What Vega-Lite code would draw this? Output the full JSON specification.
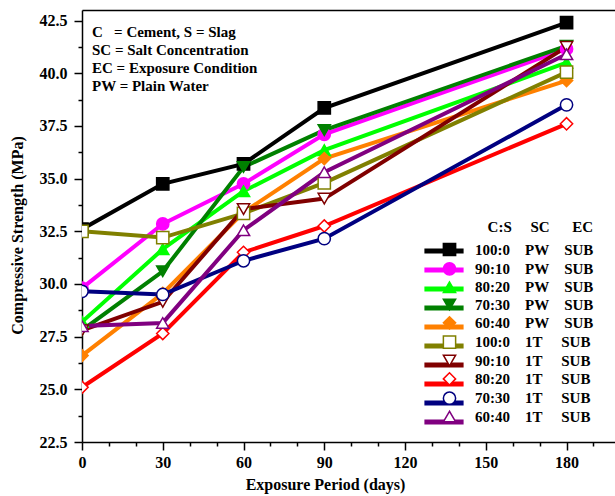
{
  "$schema": "https://vega.github.io/schema/vega-lite/v6.json",
  "width": 533,
  "height": 432,
  "autosize": "none",
  "padding": {"left": 82, "top": 10, "right": 0, "bottom": 54},
  "background": "white",
  "config": {
    "view": {"stroke": null},
    "font": "Liberation Serif",
    "axis": {
      "grid": false,
      "labelFont": "Liberation Serif", "labelFontWeight": "bold", "labelFontSize": 16, "labelColor": "black",
      "titleFont": "Liberation Serif", "titleFontWeight": "bold", "titleFontSize": 16, "titleColor": "black",
      "domainColor": "black", "domainWidth": 1.5, "tickColor": "black", "tickWidth": 1.5
    },
    "legend": {
      "labelFont": "Liberation Serif", "labelFontWeight": "bold", "labelFontSize": 15, "labelColor": "black",
      "titleFont": "Liberation Serif", "titleFontWeight": "bold", "titleFontSize": 15, "titleColor": "black",
      "padding": 0
    }
  },
  "title": {
    "text": ["C\u00a0\u00a0\u00a0= Cement, S = Slag", "SC = Salt Concentration", "EC = Exposure Condition", "PW = Plain Water"],
    "anchor": "start", "frame": "group", "orient": "top",
    "offset": -84, "dx": 10, "lineHeight": 18,
    "font": "Liberation Serif", "fontWeight": "bold", "fontSize": 15, "color": "black"
  },
  "data": {"values": [
    {"line": "100:0 PW", "label": "100:0\u00a0\u00a0\u00a0\u00a0PW\u00a0\u00a0\u00a0\u00a0SUB", "day": 0, "mpa": 32.6},
    {"line": "100:0 PW", "label": "100:0\u00a0\u00a0\u00a0\u00a0PW\u00a0\u00a0\u00a0\u00a0SUB", "day": 30, "mpa": 34.75},
    {"line": "100:0 PW", "label": "100:0\u00a0\u00a0\u00a0\u00a0PW\u00a0\u00a0\u00a0\u00a0SUB", "day": 60, "mpa": 35.7},
    {"line": "100:0 PW", "label": "100:0\u00a0\u00a0\u00a0\u00a0PW\u00a0\u00a0\u00a0\u00a0SUB", "day": 90, "mpa": 38.35},
    {"line": "100:0 PW", "label": "100:0\u00a0\u00a0\u00a0\u00a0PW\u00a0\u00a0\u00a0\u00a0SUB", "day": 180, "mpa": 42.4},
    {"line": "90:10 PW", "label": "90:10\u00a0\u00a0\u00a0\u00a0PW\u00a0\u00a0\u00a0\u00a0SUB", "day": 0, "mpa": 29.8},
    {"line": "90:10 PW", "label": "90:10\u00a0\u00a0\u00a0\u00a0PW\u00a0\u00a0\u00a0\u00a0SUB", "day": 30, "mpa": 32.85},
    {"line": "90:10 PW", "label": "90:10\u00a0\u00a0\u00a0\u00a0PW\u00a0\u00a0\u00a0\u00a0SUB", "day": 60, "mpa": 34.75},
    {"line": "90:10 PW", "label": "90:10\u00a0\u00a0\u00a0\u00a0PW\u00a0\u00a0\u00a0\u00a0SUB", "day": 90, "mpa": 37.1},
    {"line": "90:10 PW", "label": "90:10\u00a0\u00a0\u00a0\u00a0PW\u00a0\u00a0\u00a0\u00a0SUB", "day": 180, "mpa": 41.15},
    {"line": "80:20 PW", "label": "80:20\u00a0\u00a0\u00a0\u00a0PW\u00a0\u00a0\u00a0\u00a0SUB", "day": 0, "mpa": 28.2},
    {"line": "80:20 PW", "label": "80:20\u00a0\u00a0\u00a0\u00a0PW\u00a0\u00a0\u00a0\u00a0SUB", "day": 30, "mpa": 31.65},
    {"line": "80:20 PW", "label": "80:20\u00a0\u00a0\u00a0\u00a0PW\u00a0\u00a0\u00a0\u00a0SUB", "day": 60, "mpa": 34.4},
    {"line": "80:20 PW", "label": "80:20\u00a0\u00a0\u00a0\u00a0PW\u00a0\u00a0\u00a0\u00a0SUB", "day": 90, "mpa": 36.35},
    {"line": "80:20 PW", "label": "80:20\u00a0\u00a0\u00a0\u00a0PW\u00a0\u00a0\u00a0\u00a0SUB", "day": 180, "mpa": 40.5},
    {"line": "70:30 PW", "label": "70:30\u00a0\u00a0\u00a0\u00a0PW\u00a0\u00a0\u00a0\u00a0SUB", "day": 0, "mpa": 27.8},
    {"line": "70:30 PW", "label": "70:30\u00a0\u00a0\u00a0\u00a0PW\u00a0\u00a0\u00a0\u00a0SUB", "day": 30, "mpa": 30.6},
    {"line": "70:30 PW", "label": "70:30\u00a0\u00a0\u00a0\u00a0PW\u00a0\u00a0\u00a0\u00a0SUB", "day": 60, "mpa": 35.55},
    {"line": "70:30 PW", "label": "70:30\u00a0\u00a0\u00a0\u00a0PW\u00a0\u00a0\u00a0\u00a0SUB", "day": 90, "mpa": 37.3},
    {"line": "70:30 PW", "label": "70:30\u00a0\u00a0\u00a0\u00a0PW\u00a0\u00a0\u00a0\u00a0SUB", "day": 180, "mpa": 41.3},
    {"line": "60:40 PW", "label": "60:40\u00a0\u00a0\u00a0\u00a0PW\u00a0\u00a0\u00a0\u00a0SUB", "day": 0, "mpa": 26.6},
    {"line": "60:40 PW", "label": "60:40\u00a0\u00a0\u00a0\u00a0PW\u00a0\u00a0\u00a0\u00a0SUB", "day": 30, "mpa": 29.55},
    {"line": "60:40 PW", "label": "60:40\u00a0\u00a0\u00a0\u00a0PW\u00a0\u00a0\u00a0\u00a0SUB", "day": 60, "mpa": 33.4},
    {"line": "60:40 PW", "label": "60:40\u00a0\u00a0\u00a0\u00a0PW\u00a0\u00a0\u00a0\u00a0SUB", "day": 90, "mpa": 35.95},
    {"line": "60:40 PW", "label": "60:40\u00a0\u00a0\u00a0\u00a0PW\u00a0\u00a0\u00a0\u00a0SUB", "day": 180, "mpa": 39.65},
    {"line": "100:0 1T", "label": "100:0\u00a0\u00a0\u00a0\u00a01T\u00a0\u00a0\u00a0\u00a0\u00a0SUB", "day": 0, "mpa": 32.5},
    {"line": "100:0 1T", "label": "100:0\u00a0\u00a0\u00a0\u00a01T\u00a0\u00a0\u00a0\u00a0\u00a0SUB", "day": 30, "mpa": 32.2},
    {"line": "100:0 1T", "label": "100:0\u00a0\u00a0\u00a0\u00a01T\u00a0\u00a0\u00a0\u00a0\u00a0SUB", "day": 60, "mpa": 33.35},
    {"line": "100:0 1T", "label": "100:0\u00a0\u00a0\u00a0\u00a01T\u00a0\u00a0\u00a0\u00a0\u00a0SUB", "day": 90, "mpa": 34.8},
    {"line": "100:0 1T", "label": "100:0\u00a0\u00a0\u00a0\u00a01T\u00a0\u00a0\u00a0\u00a0\u00a0SUB", "day": 180, "mpa": 40.05},
    {"line": "90:10 1T", "label": "90:10\u00a0\u00a0\u00a0\u00a01T\u00a0\u00a0\u00a0\u00a0\u00a0SUB", "day": 0, "mpa": 27.8},
    {"line": "90:10 1T", "label": "90:10\u00a0\u00a0\u00a0\u00a01T\u00a0\u00a0\u00a0\u00a0\u00a0SUB", "day": 30, "mpa": 29.15},
    {"line": "90:10 1T", "label": "90:10\u00a0\u00a0\u00a0\u00a01T\u00a0\u00a0\u00a0\u00a0\u00a0SUB", "day": 60, "mpa": 33.55},
    {"line": "90:10 1T", "label": "90:10\u00a0\u00a0\u00a0\u00a01T\u00a0\u00a0\u00a0\u00a0\u00a0SUB", "day": 90, "mpa": 34.05},
    {"line": "90:10 1T", "label": "90:10\u00a0\u00a0\u00a0\u00a01T\u00a0\u00a0\u00a0\u00a0\u00a0SUB", "day": 180, "mpa": 41.25},
    {"line": "80:20 1T", "label": "80:20\u00a0\u00a0\u00a0\u00a01T\u00a0\u00a0\u00a0\u00a0\u00a0SUB", "day": 0, "mpa": 25.1},
    {"line": "80:20 1T", "label": "80:20\u00a0\u00a0\u00a0\u00a01T\u00a0\u00a0\u00a0\u00a0\u00a0SUB", "day": 30, "mpa": 27.65},
    {"line": "80:20 1T", "label": "80:20\u00a0\u00a0\u00a0\u00a01T\u00a0\u00a0\u00a0\u00a0\u00a0SUB", "day": 60, "mpa": 31.5},
    {"line": "80:20 1T", "label": "80:20\u00a0\u00a0\u00a0\u00a01T\u00a0\u00a0\u00a0\u00a0\u00a0SUB", "day": 90, "mpa": 32.75},
    {"line": "80:20 1T", "label": "80:20\u00a0\u00a0\u00a0\u00a01T\u00a0\u00a0\u00a0\u00a0\u00a0SUB", "day": 180, "mpa": 37.6},
    {"line": "70:30 1T", "label": "70:30\u00a0\u00a0\u00a0\u00a01T\u00a0\u00a0\u00a0\u00a0\u00a0SUB", "day": 0, "mpa": 29.65},
    {"line": "70:30 1T", "label": "70:30\u00a0\u00a0\u00a0\u00a01T\u00a0\u00a0\u00a0\u00a0\u00a0SUB", "day": 30, "mpa": 29.5},
    {"line": "70:30 1T", "label": "70:30\u00a0\u00a0\u00a0\u00a01T\u00a0\u00a0\u00a0\u00a0\u00a0SUB", "day": 60, "mpa": 31.1},
    {"line": "70:30 1T", "label": "70:30\u00a0\u00a0\u00a0\u00a01T\u00a0\u00a0\u00a0\u00a0\u00a0SUB", "day": 90, "mpa": 32.15},
    {"line": "70:30 1T", "label": "70:30\u00a0\u00a0\u00a0\u00a01T\u00a0\u00a0\u00a0\u00a0\u00a0SUB", "day": 180, "mpa": 38.5},
    {"line": "60:40 1T", "label": "60:40\u00a0\u00a0\u00a0\u00a01T\u00a0\u00a0\u00a0\u00a0\u00a0SUB", "day": 0, "mpa": 28.0},
    {"line": "60:40 1T", "label": "60:40\u00a0\u00a0\u00a0\u00a01T\u00a0\u00a0\u00a0\u00a0\u00a0SUB", "day": 30, "mpa": 28.15},
    {"line": "60:40 1T", "label": "60:40\u00a0\u00a0\u00a0\u00a01T\u00a0\u00a0\u00a0\u00a0\u00a0SUB", "day": 60, "mpa": 32.55},
    {"line": "60:40 1T", "label": "60:40\u00a0\u00a0\u00a0\u00a01T\u00a0\u00a0\u00a0\u00a0\u00a0SUB", "day": 90, "mpa": 35.3},
    {"line": "60:40 1T", "label": "60:40\u00a0\u00a0\u00a0\u00a01T\u00a0\u00a0\u00a0\u00a0\u00a0SUB", "day": 180, "mpa": 40.9}
  ]},
  "layer": [
    {
      "mark": {"type": "line", "strokeWidth": 4, "clip": true},
      "encoding": {
        "x": {"field": "day", "type": "quantitative",
          "scale": {"domain": [0, 198], "nice": false, "zero": false},
          "axis": {
            "orient": "bottom", "title": "Exposure Period (days)",
            "values": [0, 10, 20, 30, 40, 50, 60, 70, 80, 90, 100, 110, 120, 130, 140, 150, 160, 170, 180, 190],
            "labelExpr": "datum.value % 30 === 0 && datum.value <= 180 ? datum.label : ''",
            "tickSize": {"condition": {"test": "datum.value % 30 === 0", "value": 8}, "value": 4},
            "labelPadding": 4, "titlePadding": 6, "titleX": 243, "labelOverlap": false, "labelFlush": false
          }},
        "y": {"field": "mpa", "type": "quantitative",
          "scale": {"domain": [22.5, 43], "nice": false, "zero": false},
          "axis": {
            "title": "Compressive Strength (MPa)",
            "values": [22.5, 23.75, 25, 26.25, 27.5, 28.75, 30, 31.25, 32.5, 33.75, 35, 36.25, 37.5, 38.75, 40, 41.25, 42.5],
            "labelExpr": "datum.value % 2.5 === 0 ? format(datum.value, '.1f') : ''",
            "tickSize": {"condition": {"test": "datum.value % 2.5 === 0", "value": 8}, "value": 4},
            "labelPadding": 7, "titlePadding": 14, "titleY": 225, "labelOverlap": false, "labelFlush": false
          }},
        "color": {"field": "line", "type": "nominal",
          "scale": {
            "domain": ["100:0 PW", "90:10 PW", "80:20 PW", "70:30 PW", "60:40 PW", "100:0 1T", "90:10 1T", "80:20 1T", "70:30 1T", "60:40 1T"],
            "range": ["#000000", "#ff00ff", "#00ff00", "#008000", "#ff8000", "#808000", "#800000", "#ff0000", "#000080", "#800080"]
          },
          "legend": {
            "orient": "none", "legendX": 353, "legendY": 232, "title": null,
            "symbolType": "M-3.2,0H3.2", "symbolSize": 150, "symbolStrokeWidth": 5,
            "labelExpr": "'X'", "labelOpacity": 0, "rowPadding": -1.9, "zindex": 0
          }},
        "detail": {"field": "line", "type": "nominal"}
      }
    },
    {
      "mark": {"type": "point", "filled": true, "size": 150, "strokeWidth": 1.5, "opacity": 1, "clip": true},
      "encoding": {
        "x": {"field": "day", "type": "quantitative",
          "axis": {"orient": "top", "title": null, "labels": false, "ticks": false, "domain": true}},
        "y": {"field": "mpa", "type": "quantitative", "axis": null},
        "stroke": {"field": "label", "type": "nominal",
          "scale": {
            "domain": ["100:0\u00a0\u00a0\u00a0\u00a0PW\u00a0\u00a0\u00a0\u00a0SUB", "90:10\u00a0\u00a0\u00a0\u00a0PW\u00a0\u00a0\u00a0\u00a0SUB", "80:20\u00a0\u00a0\u00a0\u00a0PW\u00a0\u00a0\u00a0\u00a0SUB", "70:30\u00a0\u00a0\u00a0\u00a0PW\u00a0\u00a0\u00a0\u00a0SUB", "60:40\u00a0\u00a0\u00a0\u00a0PW\u00a0\u00a0\u00a0\u00a0SUB", "100:0\u00a0\u00a0\u00a0\u00a01T\u00a0\u00a0\u00a0\u00a0\u00a0SUB", "90:10\u00a0\u00a0\u00a0\u00a01T\u00a0\u00a0\u00a0\u00a0\u00a0SUB", "80:20\u00a0\u00a0\u00a0\u00a01T\u00a0\u00a0\u00a0\u00a0\u00a0SUB", "70:30\u00a0\u00a0\u00a0\u00a01T\u00a0\u00a0\u00a0\u00a0\u00a0SUB", "60:40\u00a0\u00a0\u00a0\u00a01T\u00a0\u00a0\u00a0\u00a0\u00a0SUB"],
            "range": ["#000000", "#ff00ff", "#00ff00", "#008000", "#ff8000", "#808000", "#800000", "#ff0000", "#000080", "#800080"]
          },
          "legend": {
            "orient": "none", "legendX": 360, "legendY": 210,
            "title": "C:S\u00a0\u00a0\u00a0\u00a0\u00a0SC\u00a0\u00a0\u00a0\u00a0\u00a0\u00a0EC", "titleAnchor": "end",
            "titlePadding": 7, "symbolSize": 150, "symbolStrokeWidth": 1.5,
            "labelOffset": 18, "rowPadding": 0.34, "zindex": 1
          }},
        "fill": {"field": "label", "type": "nominal",
          "scale": {
            "domain": ["100:0\u00a0\u00a0\u00a0\u00a0PW\u00a0\u00a0\u00a0\u00a0SUB", "90:10\u00a0\u00a0\u00a0\u00a0PW\u00a0\u00a0\u00a0\u00a0SUB", "80:20\u00a0\u00a0\u00a0\u00a0PW\u00a0\u00a0\u00a0\u00a0SUB", "70:30\u00a0\u00a0\u00a0\u00a0PW\u00a0\u00a0\u00a0\u00a0SUB", "60:40\u00a0\u00a0\u00a0\u00a0PW\u00a0\u00a0\u00a0\u00a0SUB", "100:0\u00a0\u00a0\u00a0\u00a01T\u00a0\u00a0\u00a0\u00a0\u00a0SUB", "90:10\u00a0\u00a0\u00a0\u00a01T\u00a0\u00a0\u00a0\u00a0\u00a0SUB", "80:20\u00a0\u00a0\u00a0\u00a01T\u00a0\u00a0\u00a0\u00a0\u00a0SUB", "70:30\u00a0\u00a0\u00a0\u00a01T\u00a0\u00a0\u00a0\u00a0\u00a0SUB", "60:40\u00a0\u00a0\u00a0\u00a01T\u00a0\u00a0\u00a0\u00a0\u00a0SUB"],
            "range": ["#000000", "#ff00ff", "#00ff00", "#008000", "#ff8000", "#ffffff", "#ffffff", "#ffffff", "#ffffff", "#ffffff"]
          }},
        "shape": {"field": "label", "type": "nominal",
          "scale": {
            "domain": ["100:0\u00a0\u00a0\u00a0\u00a0PW\u00a0\u00a0\u00a0\u00a0SUB", "90:10\u00a0\u00a0\u00a0\u00a0PW\u00a0\u00a0\u00a0\u00a0SUB", "80:20\u00a0\u00a0\u00a0\u00a0PW\u00a0\u00a0\u00a0\u00a0SUB", "70:30\u00a0\u00a0\u00a0\u00a0PW\u00a0\u00a0\u00a0\u00a0SUB", "60:40\u00a0\u00a0\u00a0\u00a0PW\u00a0\u00a0\u00a0\u00a0SUB", "100:0\u00a0\u00a0\u00a0\u00a01T\u00a0\u00a0\u00a0\u00a0\u00a0SUB", "90:10\u00a0\u00a0\u00a0\u00a01T\u00a0\u00a0\u00a0\u00a0\u00a0SUB", "80:20\u00a0\u00a0\u00a0\u00a01T\u00a0\u00a0\u00a0\u00a0\u00a0SUB", "70:30\u00a0\u00a0\u00a0\u00a01T\u00a0\u00a0\u00a0\u00a0\u00a0SUB", "60:40\u00a0\u00a0\u00a0\u00a01T\u00a0\u00a0\u00a0\u00a0\u00a0SUB"],
            "range": ["square", "circle", "triangle-up", "triangle-down", "diamond", "square", "triangle-down", "diamond", "circle", "triangle-up"]
          }}
      }
    }
  ],
  "resolve": {"axis": {"x": "independent", "y": "independent"}}
}
